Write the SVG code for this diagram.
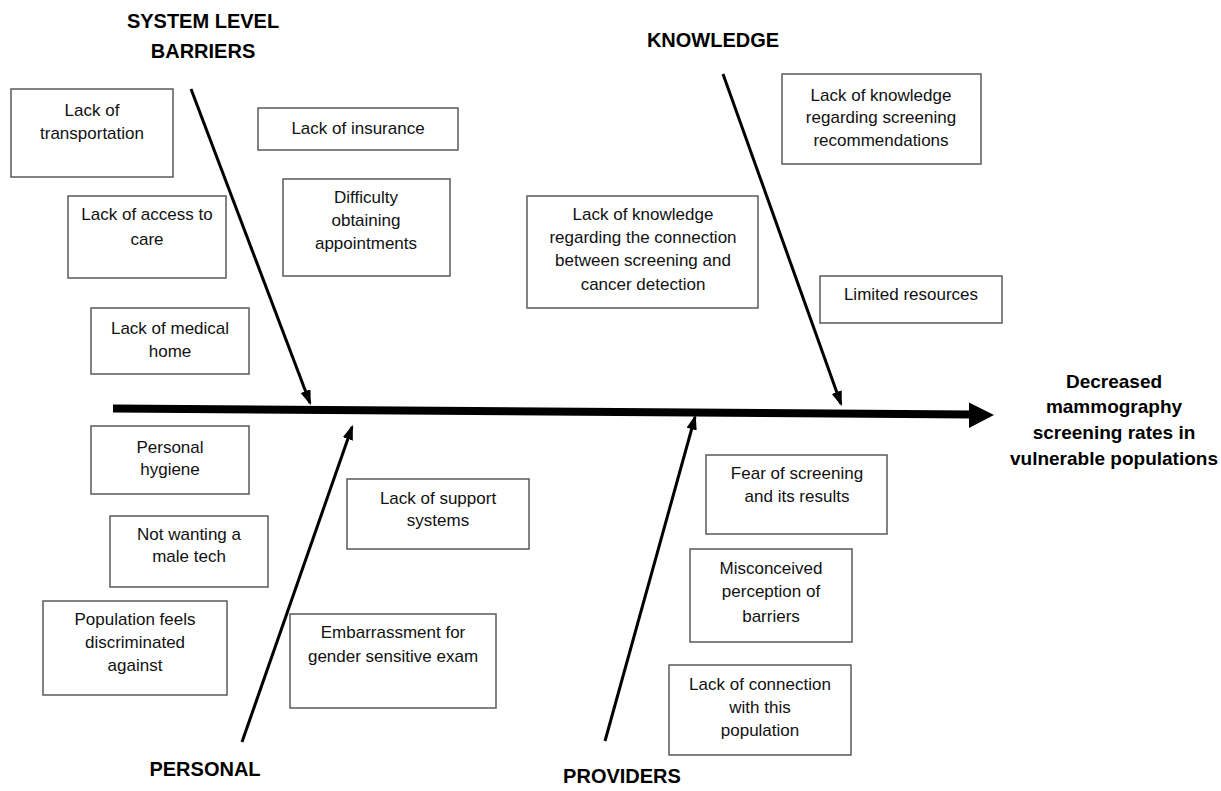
<svg xmlns="http://www.w3.org/2000/svg" width="1221" height="791" viewBox="0 0 1221 791">
<defs>
<style>
.box{fill:#fff;stroke:#5a5a5a;stroke-width:1.5}
.t{font-family:"Liberation Sans",Arial,sans-serif;font-size:17px;fill:#111;text-anchor:middle}
.h{font-family:"Liberation Sans",Arial,sans-serif;font-size:20px;font-weight:bold;fill:#000;text-anchor:middle}
.e{font-family:"Liberation Sans",Arial,sans-serif;font-size:19px;font-weight:bold;fill:#000;text-anchor:middle}
.br{stroke:#000;stroke-width:3;fill:none;marker-end:url(#ah)}
</style>
<marker id="ah" markerUnits="strokeWidth" markerWidth="5" markerHeight="4" refX="4.2" refY="1.75" orient="auto">
<path d="M0,0 L5,1.75 L0,3.5 Z" fill="#000"/>
</marker>
</defs>
<rect width="1221" height="791" fill="#fff"/>

<g id="connectors">
<line x1="113" y1="408.5" x2="973" y2="414.5" stroke="#000" stroke-width="8"/>
<polygon points="994,415 969,402.5 969,428" fill="#000"/>
<line class="br" x1="191" y1="89" x2="310" y2="403"/>
<line class="br" x1="723" y1="74" x2="841" y2="404"/>
<line class="br" x1="242" y1="742" x2="352" y2="427"/>
<line class="br" x1="605" y1="741" x2="695" y2="417"/>
</g>

<g id="head-system"><text class="h" x="203" y="28">SYSTEM LEVEL</text><text class="h" x="203" y="58">BARRIERS</text></g>
<g id="head-knowledge"><text class="h" x="713" y="47">KNOWLEDGE</text></g>
<g id="head-personal"><text class="h" x="205" y="776">PERSONAL</text></g>
<g id="head-providers"><text class="h" x="622" y="783">PROVIDERS</text></g>
<g id="effect"><text class="e" x="1114" y="388">Decreased</text><text class="e" x="1114" y="413">mammography</text><text class="e" x="1114" y="439">screening rates in</text><text class="e" x="1114" y="465">vulnerable populations</text></g>

<g id="n-transport"><rect class="box" x="11" y="89" width="162" height="88"/><text class="t" x="92" y="116">Lack of</text><text class="t" x="92" y="139">transportation</text></g>
<g id="n-insurance"><rect class="box" x="258" y="108" width="200" height="42"/><text class="t" x="358" y="134">Lack of insurance</text></g>
<g id="n-access"><rect class="box" x="68" y="196" width="158" height="82"/><text class="t" x="147" y="220">Lack of access to</text><text class="t" x="147" y="245">care</text></g>
<g id="n-appt"><rect class="box" x="283" y="179" width="167" height="97"/><text class="t" x="366" y="203">Difficulty</text><text class="t" x="366" y="226">obtaining</text><text class="t" x="366" y="249">appointments</text></g>
<g id="n-medhome"><rect class="box" x="91" y="308" width="158" height="66"/><text class="t" x="170" y="334">Lack of medical</text><text class="t" x="170" y="357">home</text></g>

<g id="n-screenrec"><rect class="box" x="782" y="74" width="199" height="90"/><text class="t" x="881" y="101">Lack of knowledge</text><text class="t" x="881" y="123">regarding screening</text><text class="t" x="881" y="146">recommendations</text></g>
<g id="n-connection"><rect class="box" x="527" y="196" width="231" height="112"/><text class="t" x="643" y="220">Lack of knowledge</text><text class="t" x="643" y="243">regarding the connection</text><text class="t" x="643" y="266">between screening and</text><text class="t" x="643" y="290">cancer detection</text></g>
<g id="n-resources"><rect class="box" x="820" y="276" width="182" height="47"/><text class="t" x="911" y="300">Limited resources</text></g>

<g id="n-hygiene"><rect class="box" x="91" y="426" width="158" height="68"/><text class="t" x="170" y="453">Personal</text><text class="t" x="170" y="475">hygiene</text></g>
<g id="n-maletech"><rect class="box" x="110" y="516" width="158" height="71"/><text class="t" x="189" y="540">Not wanting a</text><text class="t" x="189" y="562">male tech</text></g>
<g id="n-discrim"><rect class="box" x="43" y="601" width="184" height="94"/><text class="t" x="135" y="625">Population feels</text><text class="t" x="135" y="648">discriminated</text><text class="t" x="135" y="671">against</text></g>
<g id="n-support"><rect class="box" x="347" y="479" width="182" height="70"/><text class="t" x="438" y="504">Lack of support</text><text class="t" x="438" y="526">systems</text></g>
<g id="n-embarrass"><rect class="box" x="290" y="614" width="206" height="94"/><text class="t" x="393" y="638">Embarrassment for</text><text class="t" x="393" y="662">gender sensitive exam</text></g>

<g id="n-fear"><rect class="box" x="706" y="455" width="181" height="79"/><text class="t" x="797" y="479">Fear of screening</text><text class="t" x="797" y="502">and its results</text></g>
<g id="n-misconceived"><rect class="box" x="690" y="549" width="162" height="93"/><text class="t" x="771" y="574">Misconceived</text><text class="t" x="771" y="597">perception of</text><text class="t" x="771" y="622">barriers</text></g>
<g id="n-lackconn"><rect class="box" x="669" y="665" width="182" height="90"/><text class="t" x="760" y="690">Lack of connection</text><text class="t" x="760" y="713">with this</text><text class="t" x="760" y="736">population</text></g>
</svg>
